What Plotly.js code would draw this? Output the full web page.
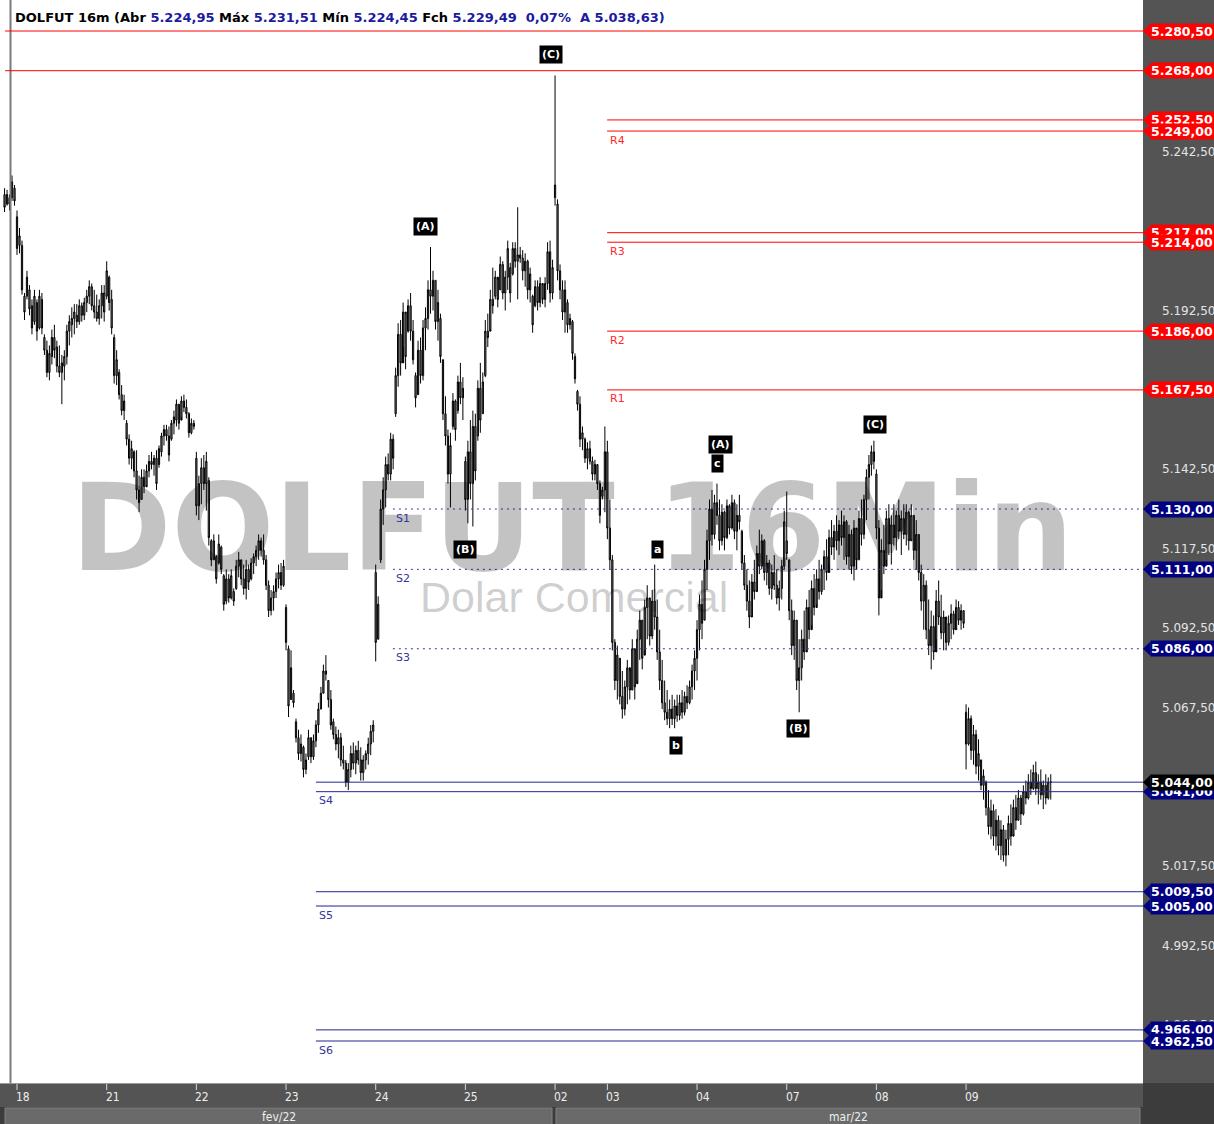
<!DOCTYPE html>
<html><head><meta charset="utf-8">
<script src="https://cdn.plot.ly/plotly-3.0.1.min.js"></script>
<style>html,body{margin:0;padding:0;background:#545454;overflow:hidden}#chart{width:1214px;height:1124px}</style>
</head><body><div id="chart"></div>
<script>
// ---------- DATA ----------
const dayLabels   = ['18','21','22','23','24','25','02','03','04','07','08','09'];
const dayStartBar = [5,41,77,113,149,185,221,242,278,314,350,386];
const monthLabels = ['fev/22','mar/22'];

const high = [
5231,5230.5,5229,5235,5232,
5224,5218.5,5214.5,5198,5205,5200.5,5196,5199,5196,5199,5198,5185,5183,5181.5,5186.5,5188,5183,5181.5,5178.5,5180,5188,5191,5193.5,5194.5,5194.5,5196,5195,5196.5,5199,5202,5201,5199,5197.5,5196,5200.5,5200.5,
5208,5203.5,5199,5185,5180,5174,5169,5166,5158,5153.5,5151.5,5148.5,5148.5,5140.5,5142.5,5142.5,5144,5147,5148,5147,5148.5,5150,5154,5156.5,5156.5,5156,5158,5161,5164.5,5163,5165.5,5166,5164.5,5160.5,5158.5,5158,
5148,5140.5,5146,5147,5148,5140,5120.5,5122,5115.5,5122,5118.5,5109.5,5111,5109.5,5111,5105,5114,5116.5,5114,5112.5,5114,5112.5,5114.5,5116,5118.5,5122,5121,5122,5115.5,5107.5,5104.5,5106,5110,5112.5,5113,5114,
5100,5087,5085.5,5073,5064,5060.5,5059,5055.5,5053,5060.5,5058,5059,5063.5,5069,5074,5081,5084,5076,5073,5064,5061.5,5060.5,5059.5,5055.5,5051,5050,5055.5,5056.5,5055.5,5057,5055,5052.5,5054,5058,5062,5063.5,
5112.5,5102.5,5133,5140,5146.5,5147.5,5154,5153.5,5174.5,5188.5,5189.5,5195,5191.5,5196,5198,5189.5,5173,5183,5184,5189.5,5193.5,5202,5212.5,5205,5202,5199,5191.5,5177,5165.5,5155,5154,5166.5,5164.5,5172,5176,5171.5,
5146.5,5151.5,5158,5161,5160,5170.5,5176,5173,5189.5,5191.5,5199,5206,5205,5202,5209.5,5208,5205,5214.5,5207.5,5214,5214,5225,5212.5,5211.5,5210.5,5208.5,5206,5197.5,5202,5202,5203,5200.5,5203,5214,5214.5,5208.5,
5266.5,5227.5,5207,5202,5202,5196,5191.5,5189.5,5179,5167.5,5165.5,5156,5152.5,5151,5151.5,5146.5,5145.5,5144,5139,5137,5156,
5151.5,5133,5115.5,5089,5087,5082.5,5079,5076,5082.5,5079,5089,5085.5,5092,5098,5095,5101.5,5106,5101.5,5104.5,5112.5,5101.5,5092,5082.5,5076,5073,5070,5071.5,5070,5071.5,5071.5,5073,5072.5,5074.5,5076,5081,5085.5,
5095,5103,5107.5,5114,5123.5,5133,5136,5134.5,5138,5133,5131.5,5129.5,5133,5131.5,5134.5,5133,5131.5,5134.5,5123.5,5115.5,5111,5107.5,5109.5,5114,5118.5,5123.5,5122,5120.5,5115.5,5114,5112.5,5115.5,5111,5107.5,5114,5129.5,
5135.5,5114,5101.5,5098,5095,5089,5092,5098,5101.5,5104.5,5107.5,5109.5,5111,5114,5112.5,5117,5120.5,5123.5,5126.5,5125,5128,5126.5,5129.5,5128,5126.5,5125,5123.5,5126.5,5123.5,5129.5,5133,5134.5,5142.5,5147,5150,5151.5,
5142.5,5126.5,5120.5,5125,5129.5,5131.5,5128,5131.5,5129.5,5133,5129.5,5131.5,5131.5,5129.5,5131.5,5128,5126.5,5122,5112.5,5109.5,5107.5,5101.5,5098,5096.5,5104.5,5107.5,5103,5098,5095,5096.5,5100,5098,5101.5,5101,5100,5098,
5068.5,5067.5,5065,5062,5060.5,5057.5,5051,5048,5044.5,5041.5,5038.5,5037,5035.5,5033.5,5032,5030.5,5029,5033.5,5037,5038.5,5040,5041.5,5040,5043,5044.5,5046.5,5048,5049.5,5050.5,5046.5,5048,5044.5,5046.5,5045.5,5046.5
];
const low = [
5223.5,5225.5,5224,5227,5225.5,
5210,5210.5,5197.5,5189.5,5196,5191,5185,5188,5183,5186.5,5185,5178.5,5171.5,5170.5,5175.5,5177.5,5173,5171.5,5163,5170.5,5175.5,5181.5,5184,5185,5187,5188,5189,5189.5,5192,5194.5,5192.5,5190,5189,5188,5190,5189,
5196,5192.5,5185,5169.5,5169,5164.5,5159.5,5158,5150,5144,5142.5,5140,5133,5129,5133,5135,5137.5,5140,5142.5,5140.5,5136,5143,5146.5,5150,5151.5,5145,5151.5,5153.5,5156,5155,5159,5160.5,5158.5,5152.5,5153.5,5155,
5128,5126.5,5131.5,5136,5129.5,5118.5,5112,5114,5106.5,5112.5,5109.5,5098,5100,5100.5,5101.5,5099.5,5104.5,5108.5,5106,5103,5101.5,5104.5,5107.5,5109.5,5112,5114,5115,5112.5,5104.5,5096,5096.5,5098,5102,5105,5104.5,5105.5,
5085.5,5064.5,5070,5067.5,5056.5,5051,5050.5,5045.5,5046.5,5051,5050,5051,5055,5059.5,5067,5072,5076,5067.5,5060.5,5057.5,5054,5051.5,5049,5048,5042.5,5041.5,5045.5,5048,5046.5,5049.5,5044.5,5044.5,5048,5049.5,5052.5,5056.5,
5082,5089,5113,5125,5130.5,5139,5139,5142.5,5159,5168.5,5172,5181,5174,5185.5,5183,5175.5,5162,5166,5169.5,5170.5,5180,5186.5,5191.5,5192.5,5186.5,5183,5176,5158,5150,5138,5130.5,5155,5151.5,5160,5163,5158,
5129.5,5125.5,5133,5124.5,5139,5151.5,5154,5160,5171.5,5181,5186.5,5191.5,5196,5193.5,5199,5196,5192.5,5199,5195,5203.5,5206,5196,5207.5,5202,5200,5196,5195,5185.5,5193.5,5192.5,5193.5,5194.5,5193.5,5199,5195,5196,
5225.5,5202,5196,5189.5,5185.5,5185.5,5186.5,5177,5169.5,5161,5149.5,5148.5,5144.5,5142.5,5144,5139,5139,5136,5125.5,5133,5129,
5120.5,5111,5085.5,5073,5070,5068.5,5064,5065,5068.5,5070,5073,5070,5076,5082.5,5079.5,5085.5,5089,5087,5089,5092,5082.5,5073,5067,5063.5,5062,5061,5062,5061,5063,5063.5,5064,5065,5067,5068.5,5070,5073,
5076,5085.5,5089,5095,5104.5,5114,5118.5,5120.5,5125,5117,5118.5,5117,5120.5,5122,5123.5,5120.5,5117,5123.5,5111,5104.5,5098,5092.5,5096.5,5101.5,5104.5,5109.5,5111,5107.5,5106,5103,5101.5,5104.5,5100,5098,5101.5,5111,
5114,5095,5084,5082.5,5073,5066,5076,5082.5,5085.5,5089,5093.5,5096.5,5100,5101.5,5103,5104.5,5107.5,5112.5,5115.5,5114,5117,5115.5,5118.5,5114,5112.5,5111,5109.5,5107.5,5111,5114,5118.5,5120.5,5126.5,5133,5140.5,5142.5,
5120.5,5096.5,5104.5,5109.5,5114,5115.5,5112.5,5118.5,5117,5120.5,5115.5,5120.5,5118.5,5117,5120.5,5114,5111,5107.5,5098,5092,5089,5084,5079.5,5082.5,5089,5093.5,5089,5085.5,5085.5,5087,5089,5090.5,5092.5,5093.5,5092,5092.5,
5048,5055.5,5051,5049.5,5046.5,5044.5,5041.5,5038.5,5033.5,5027.5,5026,5024,5022.5,5021,5019.5,5019,5017.5,5021,5024,5027.5,5029,5032,5030.5,5033.5,5037,5038.5,5040,5041.5,5040,5037,5038.5,5035.5,5037,5038.5,5038.5
];
const open = [
5229,5226,5228,5228,5231,
5222,5213,5213,5197,5197,5199,5194,5189,5195,5187,5196,5184,5180,5173,5178,5184,5181,5175,5173,5175,5178,5186,5188,5190,5191,5189,5194,5191,5195,5197,5200,5194,5192,5190,5194,5198,
5197,5203,5196,5184,5172,5173,5166,5161,5157,5152,5146,5148,5142,5136,5133,5140,5137,5142,5145,5144,5146,5144,5148,5153,5155,5153,5152,5157,5158,5163,5158,5164,5162,5160,5154,5157,
5146,5131,5138,5143,5138,5139,5120,5114,5115,5113,5118,5109,5101,5108,5102,5104,5105,5112,5114,5108,5105,5111,5108,5113,5115,5117,5120,5117,5114,5106,5098,5102,5104,5108,5110,5106,
5099,5086,5070,5072,5063,5058,5053,5055,5048,5052,5058,5052,5057,5062,5067,5072,5079,5076,5070,5063,5059,5056,5058,5051,5050,5044,5048,5053,5050,5054,5051,5047,5051,5053,5056,5060,
5110,5089,5114,5130,5136,5144,5141,5152,5160,5172,5185,5176,5192,5186,5194,5186,5172,5166,5180,5172,5187,5190,5199,5197,5202,5189,5190,5177,5160,5153,5141,5156,5164,5161,5170,5165,
5145,5133,5148,5138,5156,5153,5168,5160,5172,5186,5186,5196,5197,5203,5199,5207,5198,5203,5206,5204,5212,5208,5210,5209,5205,5208,5199,5197,5194,5200,5195,5201,5196,5201,5211,5198,
5228,5226,5205,5199,5192,5195,5188,5189,5178,5167,5163,5152,5152,5146,5149,5145,5141,5144,5138,5134,5136,
5148,5124,5114,5088,5076,5083,5071,5067,5074,5080,5073,5086,5075,5089,5095,5084,5099,5102,5090,5101,5096,5085,5076,5069,5066,5064,5067,5064,5068,5065,5069,5066,5071,5069,5074,5079,
5083,5092,5100,5095,5111,5120,5130,5122,5132,5128,5120,5129,5121,5131,5124,5132,5123,5128,5123,5113,5106,5101,5096,5107,5104,5116,5112,5120,5110,5113,5105,5110,5106,5102,5105,5112,
5120,5114,5098,5087,5095,5076,5080,5089,5085,5099,5092,5105,5099,5108,5104,5111,5115,5110,5121,5118,5123,5120,5125,5121,5126,5115,5122,5112,5124,5114,5127,5122,5133,5140,5144,5148,
5141,5124,5102,5117,5112,5127,5119,5125,5121,5128,5123,5127,5122,5129,5120,5128,5117,5122,5110,5101,5106,5092,5087,5093,5085,5101,5096,5091,5096,5088,5094,5097,5092,5099,5095,5098,
5066,5056,5064,5054,5059,5049,5051,5043,5044,5036,5030,5035,5027,5032,5024,5029,5021,5026,5031,5027,5036,5032,5039,5034,5041,5039,5044,5042,5047,5042,5044,5040,5043,5039,5044
];
const close = [
5225,5229,5226,5233,5227,
5212,5216,5199,5192,5203,5193,5187,5197,5186,5197,5187,5180,5173,5179,5184,5180,5175,5173,5176,5178,5186,5189,5190,5192,5189,5194,5191,5195,5197,5200,5194,5192,5190,5194,5198,5192,
5205,5195,5187,5172,5177,5166,5161,5164,5152,5146,5149,5142,5136,5132,5140,5137,5142,5145,5144,5146,5138,5149,5153,5155,5153,5147,5157,5159,5163,5157,5164,5162,5160,5154,5157,5156,
5131,5138,5143,5138,5145,5121,5114,5120,5108,5119,5111,5100,5108,5102,5109,5101,5112,5114,5108,5105,5111,5107,5113,5115,5117,5120,5117,5114,5106,5098,5102,5104,5108,5110,5106,5112,
5088,5068,5080,5069,5058,5053,5056,5048,5051,5058,5052,5057,5062,5067,5072,5079,5078,5070,5062,5059,5056,5058,5051,5050,5044,5048,5053,5050,5054,5051,5047,5051,5053,5056,5060,5062,
5088,5100,5130,5136,5144,5141,5152,5146,5172,5185,5176,5192,5178,5194,5186,5177,5165,5180,5172,5187,5190,5199,5197,5202,5189,5195,5178,5160,5153,5141,5150,5164,5155,5170,5165,5168,
5133,5148,5138,5156,5142,5168,5158,5170,5186,5184,5196,5194,5203,5196,5207,5198,5203,5212,5198,5212,5208,5210,5209,5205,5208,5199,5204,5188,5200,5195,5201,5196,5201,5211,5198,5206,
5232,5205,5199,5192,5199,5188,5190,5179,5171,5163,5152,5154,5146,5149,5145,5141,5144,5138,5128,5136,5148,
5124,5114,5088,5076,5084,5071,5067,5074,5080,5073,5086,5074,5089,5095,5083,5099,5102,5090,5101,5096,5085,5076,5069,5066,5064,5067,5064,5068,5065,5069,5066,5071,5069,5074,5079,5083,
5092,5100,5094,5111,5120,5130,5122,5132,5128,5120,5129,5121,5131,5124,5132,5123,5128,5126,5113,5106,5101,5096,5107,5104,5116,5112,5120,5110,5113,5105,5110,5106,5102,5105,5112,5126,
5116,5098,5087,5095,5076,5080,5089,5085,5099,5092,5105,5099,5108,5104,5111,5115,5110,5121,5118,5123,5120,5125,5121,5126,5115,5122,5112,5124,5114,5127,5122,5133,5140,5144,5148,5145,
5124,5102,5117,5112,5127,5119,5125,5121,5128,5123,5127,5122,5129,5120,5128,5117,5122,5110,5101,5106,5092,5087,5093,5085,5101,5096,5091,5096,5088,5094,5097,5092,5099,5095,5098,5094,
5056,5064,5054,5059,5049,5053,5043,5046,5036,5030,5035,5027,5032,5024,5029,5021,5026,5031,5027,5036,5032,5039,5034,5041,5039,5044,5042,5047,5042,5044,5040,5043,5039,5044,5044
];

// horizontal levels
const topLevels     = [5280.5, 5268];
const resistLevels  = [5252.5, 5249, 5217, 5214, 5186, 5167.5];
const resistLabels  = ['', 'R4', '', 'R3', 'R2', 'R1'];
const pivotLevels   = [5130, 5111, 5086];
const pivotLabels   = ['S1', 'S2', 'S3'];
const supportLevels = [5044, 5041, 5009.5, 5005, 4966, 4962.5];
const supportLabels = ['', 'S4', '', 'S5', '', 'S6'];
const lastPrice = 5044;

// price axis labels
const axisTicks = [5267.5, 5242.5, 5217.5, 5192.5, 5167.5, 5142.5, 5117.5, 5092.5, 5067.5, 5042.5, 5017.5, 4992.5, 4967.5];

// Elliott wave labels
const waveText  = ['(C)', '(A)', '(B)', 'a', 'b', '(A)', 'c', '(B)', '(C)'];
const waveBar   = [219.4, 168.8, 184.8, 262.3, 269.5, 287.6, 286.4, 318.5, 349.4];
const wavePrice = [5273.0, 5219.1, 5117.1, 5117.1, 5055.4, 5150.2, 5144.2, 5060.8, 5156.5];

// header values
const hdr = {abr:'5.224,95', max:'5.231,51', min:'5.224,45', fch:'5.229,49', pct:'0,07%', a:'5.038,63'};

// ---------- LAYOUT HELPERS ----------
const PW = 1143, PH = 1083;            // plot area size in px
const XR = [-1.83, 457.03];
const YR = [4949.28, 5290.26];
const pxX = v => v / PW;
const pxY = v => 1 - v / PH;
const RED = '#ff0000', NAVY = '#000080';
function fmt(v){
  const s = v.toFixed(2).split('.');
  const int = s[0].replace(/\B(?=(\d{3})+(?!\d))/g, '.');
  return int + ',' + s[1];
}

const idx = high.map((_, i) => i);
const trace = {
  type: 'candlestick', x: idx, open: open, high: high, low: low, close: close,
  increasing: {line: {color: '#000000', width: 1}, fillcolor: '#8a8a8a'},
  decreasing: {line: {color: '#000000', width: 1}, fillcolor: '#8a8a8a'},
  whiskerwidth: 0, hoverinfo: 'skip', showlegend: false
};

const shapes = [];
const ann = [];

// watermark (semi transparent so bars stay black)
ann.push({xref:'paper', yref:'paper', x:pxX(572), y:pxY(528), xanchor:'center', yanchor:'middle',
  text:'<b>DOLFUT 16Min</b>', showarrow:false,
  font:{family:'DejaVu Sans', size:121, color:'rgba(0,0,0,0.235)'}});
ann.push({xref:'paper', yref:'paper', x:pxX(574), y:pxY(597), xanchor:'center', yanchor:'middle',
  text:'Dolar Comercial', showarrow:false,
  font:{family:'Liberation Sans', size:43, color:'rgba(0,0,0,0.2)'}});

// left marker line
shapes.push({type:'line', xref:'paper', yref:'paper', x0:pxX(10.5), x1:pxX(10.5), y0:0, y1:1,
  line:{color:'#7a7a7a', width:2}});

// level lines
function hline(v, x0, color, dash){
  shapes.push({type:'line', xref:'x', yref:'y', x0:x0, x1:XR[1], y0:v, y1:v,
    line:{color:color, width:1, dash:dash||'solid'}});
}
function lvlLabel(v, x0, txt, color){
  if(!txt) return;
  ann.push({xref:'x', yref:'y', x:x0, y:v, xanchor:'left', yanchor:'middle', xshift:1, yshift:-9,
    text:txt, showarrow:false, font:{family:'DejaVu Sans', size:11, color:color}});
}
const xTop = 0.2, xRes = 241.9, xPiv = 155.9, xSup = 125.0;
topLevels.forEach(v => hline(v, xTop, RED));
resistLevels.forEach((v, i) => { hline(v, xRes, RED); lvlLabel(v, xRes, resistLabels[i], '#ff2a2a'); });
pivotLevels.forEach((v, i) => { hline(v, xPiv, '#3a3aa6', '2px,4px'); lvlLabel(v, xPiv, pivotLabels[i], '#34349a'); });
supportLevels.forEach((v, i) => { hline(v, xSup, '#24248f'); lvlLabel(v, xSup, supportLabels[i], '#34349a'); });

// wave labels
waveText.forEach((t, i) => {
  ann.push({xref:'x', yref:'y', x:waveBar[i], y:wavePrice[i], xanchor:'center', yanchor:'middle',
    text:'<b>'+t+'</b>', showarrow:false, bgcolor:'#000000', borderpad:2,
    font:{family:'DejaVu Sans', size:11, color:'#ffffff'}});
});

// header
const nv = s => '<span style="color:#1b1b9e">'+s+'</span>';
ann.push({xref:'paper', yref:'paper', x:pxX(13), y:pxY(18), xanchor:'left', yanchor:'middle', showarrow:false,
  text:'<b>DOLFUT 16m (Abr '+nv(hdr.abr)+' Máx '+nv(hdr.max)+' Mín '+nv(hdr.min)+' Fch '+nv(hdr.fch)+
       '\u00a0 '+nv(hdr.pct)+'\u00a0 '+nv('A '+hdr.a+')')+'</b>',
  font:{family:'DejaVu Sans', size:13, color:'#000000'}});

// bottom bands
shapes.push({type:'rect', xref:'paper', yref:'paper', x0:0, x1:pxX(1214), y0:pxY(1107), y1:pxY(1130),
  fillcolor:'#3c3c3c', line:{width:0}, layer:'below'});
shapes.push({type:'rect', xref:'paper', yref:'paper', x0:pxX(5), x1:pxX(552), y0:pxY(1108), y1:pxY(1130),
  fillcolor:'#6a6a6a', line:{color:'#808080', width:1}, layer:'below'});
shapes.push({type:'rect', xref:'paper', yref:'paper', x0:pxX(556), x1:pxX(1140), y0:pxY(1108), y1:pxY(1130),
  fillcolor:'#6a6a6a', line:{color:'#808080', width:1}, layer:'below'});
shapes.push({type:'rect', xref:'paper', yref:'paper', x0:1, x1:pxX(1220), y0:pxY(1083), y1:pxY(1130),
  fillcolor:'#3c3c3c', line:{width:0}, layer:'below'});
shapes.push({type:'line', xref:'paper', yref:'paper', x0:0, x1:1, y0:pxY(1083.5), y1:pxY(1083.5),
  line:{color:'#9a9a9a', width:1}});

// day ticks + labels
dayStartBar.forEach((b, i) => {
  shapes.push({type:'line', xref:'x', yref:'paper', x0:b, x1:b, y0:pxY(1084), y1:pxY(1090),
    line:{color:'#d8d8d8', width:1}});
  ann.push({xref:'x', yref:'paper', x:b, y:pxY(1097), xanchor:'left', yanchor:'middle', xshift:-3,
    text:dayLabels[i], showarrow:false,
    font:{family:'DejaVu Sans Condensed, DejaVu Sans', size:12, color:'#eeeeee'}});
});
ann.push({xref:'paper', yref:'paper', x:pxX(278.5), y:pxY(1117), xanchor:'center', yanchor:'middle',
  text:monthLabels[0], showarrow:false, font:{family:'DejaVu Sans Condensed, DejaVu Sans', size:12, color:'#eeeeee'}});
ann.push({xref:'paper', yref:'paper', x:pxX(848), y:pxY(1117), xanchor:'center', yanchor:'middle',
  text:monthLabels[1], showarrow:false, font:{family:'DejaVu Sans Condensed, DejaVu Sans', size:12, color:'#eeeeee'}});

// price axis labels
axisTicks.forEach(v => {
  ann.push({xref:'paper', yref:'y', x:pxX(1160), y:v, xanchor:'left', yanchor:'middle', showarrow:false,
    text:fmt(v), font:{family:'DejaVu Sans', size:12, color:'#e4e4e4'}});
});

// price tags (later ones cover earlier ones)
const tagLevels = [].concat(topLevels, resistLevels, pivotLevels, [5041, 5044, 5009.5, 5005, 4966, 4962.5]);
tagLevels.forEach(v => {
  const col = v >= 5160 ? RED : (v === lastPrice ? '#000000' : NAVY);
  const hh = 7.3 / 3.177;
  shapes.push({type:'path', xref:'paper', yref:'y',
    path:'M1,'+v+' L'+pxX(1150.5)+','+(v+hh)+' L'+pxX(1150.5)+','+(v-hh)+' Z',
    fillcolor:col, line:{width:0}});
  ann.push({xref:'paper', yref:'y', x:pxX(1150), y:v, xanchor:'left', yanchor:'middle', showarrow:false,
    text:'<b>'+fmt(v)+'\u00a0\u00a0</b>', bgcolor:col, borderpad:0,
    font:{family:'DejaVu Sans', size:12.5, color:'#ffffff'}});
});

const layout = {
  width:1214, height:1124,
  margin:{l:0, r:71, t:0, b:41, pad:0},
  paper_bgcolor:'#545454', plot_bgcolor:'#ffffff', showlegend:false,
  xaxis:{range:XR, showgrid:false, zeroline:false, showticklabels:false, ticks:'', showline:false,
         rangeslider:{visible:false}, fixedrange:true},
  yaxis:{range:YR, showgrid:false, zeroline:false, showticklabels:false, ticks:'', showline:false, fixedrange:true},
  shapes:shapes, annotations:ann
};
Plotly.newPlot('chart', [trace], layout, {staticPlot:true, displayModeBar:false});
</script>
</body></html>
